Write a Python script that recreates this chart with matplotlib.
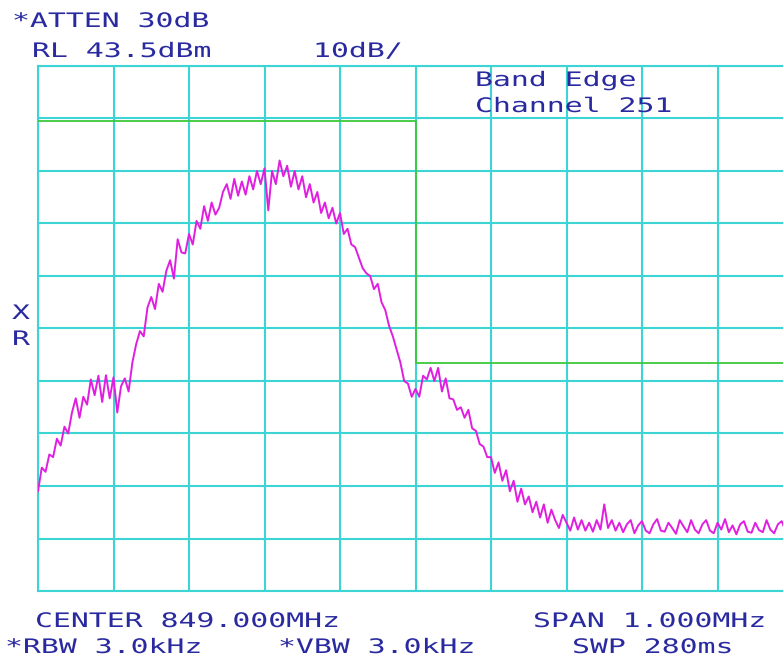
"""
Band-edge spectrum analyzer plot, channel 251, drawn as an instrument screen.
"""

import numpy as np
import matplotlib
matplotlib.use("Agg")
import matplotlib.pyplot as plt
from matplotlib import patheffects
from matplotlib.transforms import Affine2D

# Instrument settings
ref_level = 43.5          # dBm, top graticule line
db_per_div = 10
span_khz = 1000
center_mhz = 849.000

# Measured trace, offset from centre in kHz (5 kHz step) and level in dBm
trace_dbm = [
    -37.5, -33.0, -33.8, -30.5, -31.0, -27.5, -28.8, -25.2, -26.5, -22.5,
    -19.8, -23.5, -19.5, -21.0, -16.2, -19.2, -15.5, -20.5, -15.4, -19.8,
    -15.8, -22.5, -17.5, -16.0, -18.5, -13.0, -9.5, -7.0, -8.0, -2.5,
    -0.5, -2.8, 2.0, 0.5, 4.5, 6.5, 3.0, 10.5, 8.0, 7.8,
    11.5, 9.5, 14.0, 12.5, 16.8, 14.0, 17.5, 15.2, 16.5, 19.5,
    21.0, 18.2, 22.0, 18.8, 21.5, 19.0, 22.5, 20.0, 23.5, 21.0,
    24.0, 16.0, 23.5, 21.0, 25.5, 22.5, 24.5, 20.5, 23.5, 20.0,
    22.5, 18.5, 21.0, 17.5, 19.5, 15.5, 17.5, 14.5, 16.5, 13.5,
    15.5, 11.5, 12.5, 9.5, 9.0, 7.0, 5.0, 4.0, 3.5, 1.0,
    2.0, -1.5, -3.0, -6.0, -8.0, -10.5, -13.0, -16.5, -17.0, -19.5,
    -18.0, -19.5, -15.5, -16.2, -14.0, -16.5, -14.0, -18.5, -16.0, -19.8,
    -20.0, -22.0, -21.5, -23.5, -22.0, -25.5, -26.0, -28.5, -29.0, -31.0,
    -31.0, -34.0, -32.0, -35.5, -33.5, -37.5, -35.5, -39.5, -37.0, -40.0,
    -38.5, -41.5, -39.5, -42.5, -40.0, -43.5, -41.0, -43.0, -44.5, -42.0,
    -43.5, -45.0, -42.5, -44.8, -43.0, -45.0, -43.5, -45.2, -43.0, -44.8,
    -40.0, -44.5, -43.0, -45.0, -43.5, -45.3, -43.8, -43.0, -45.5, -44.0,
    -43.2, -45.0, -45.5, -43.8, -42.8, -45.0, -45.2, -43.5, -44.5, -45.6,
    -43.0, -44.2, -45.3, -43.0, -44.8, -45.5, -43.8, -43.0, -45.0, -45.5,
    -43.5, -44.8, -42.8, -45.3, -44.0, -45.7, -43.8, -43.2, -45.2, -45.4,
    -43.5, -44.9, -45.3, -43.0, -44.8, -45.5, -43.8, -43.2, -45.0, -44.0,
    -45.1,
]
trace_khz = np.linspace(-span_khz / 2, span_khz / 2, len(trace_dbm))

# Emission limit mask (in-band / out-of-band)
limit_khz = [-500, 0, 0, 500]
limit_dbm = [33, 33, -13, -13]

W, H = 783, 658
TEXT = "#2a2aa0"
GRID = "#3cd4d4"
TRACE = "#e01ee0"
LIMIT = "#3cc83c"


class Stretch(patheffects.AbstractPathEffect):
    """Widen glyphs horizontally, like the wide-pitch instrument font."""

    def __init__(self, sx):
        super().__init__()
        self.sx = sx

    def draw_path(self, renderer, gc, tpath, affine, rgbFace=None):
        renderer.draw_path(gc, tpath, Affine2D().scale(self.sx, 1) + affine, rgbFace)


def screen_text(fig, x, y, s):
    # x, y in pixels from the top-left, y is the baseline
    fig.text(x / W, 1 - y / H, s, ha="left", va="baseline", color=TEXT,
             family="DejaVu Sans Mono", fontsize=14.4,
             path_effects=[Stretch(1.49)])


fig = plt.figure(figsize=(W / 100, H / 100), dpi=100, facecolor="white")
ax = fig.add_axes([38 / W, (H - 591) / H, 755 / W, 525 / H])

ax.set_xlim(-span_khz / 2, span_khz / 2)
ax.set_ylim(ref_level - 10 * db_per_div, ref_level)
ax.set_xticks(np.arange(-500, 501, 100))
ax.set_yticks(ref_level - db_per_div * np.arange(0, 11))
ax.tick_params(length=0, labelbottom=False, labelleft=False)
ax.grid(True, color=GRID, linewidth=1.5)
for sp in ax.spines.values():
    sp.set_color(GRID)
    sp.set_linewidth(1.5)
ax.set_axisbelow(True)

ax.plot(limit_khz, limit_dbm, color=LIMIT, linewidth=1.3, zorder=3)
ax.plot(trace_khz, trace_dbm, color=TRACE, linewidth=1.4, zorder=4)

screen_text(fig, 12, 27, "*ATTEN 30dB")
screen_text(fig, 32, 57, "RL 43.5dBm")
screen_text(fig, 313, 57, "10dB/")
screen_text(fig, 475, 86, "Band Edge")
screen_text(fig, 475, 112, "Channel 251")
screen_text(fig, 12, 319, "X")
screen_text(fig, 12, 345, "R")
screen_text(fig, 35, 627, f"CENTER {center_mhz:.3f}MHz")
screen_text(fig, 533, 627, f"SPAN {span_khz / 1000:.3f}MHz")
screen_text(fig, 5, 653, "*RBW 3.0kHz")
screen_text(fig, 278, 653, "*VBW 3.0kHz")
screen_text(fig, 572, 653, "SWP 280ms")

fig.savefig("out.png", dpi=100, facecolor="white")
